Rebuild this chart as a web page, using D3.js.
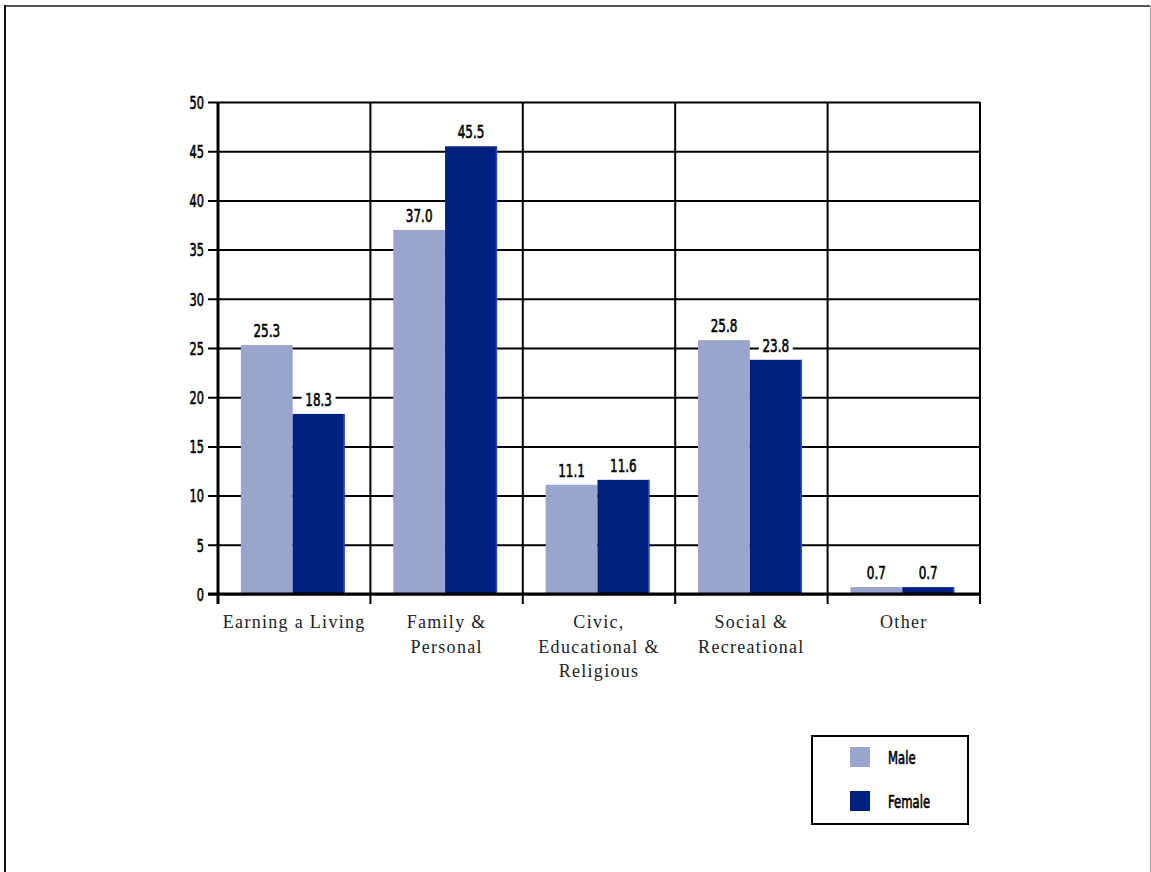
<!DOCTYPE html>
<html>
<head>
<meta charset="utf-8">
<script src="https://cdn.jsdelivr.net/npm/d3@7"></script>
<style>
  html, body { margin: 0; padding: 0; background: #fff; }
  svg { display: block; }
  .narrow { font-family: "DejaVu Sans Condensed", "DejaVu Sans", sans-serif; font-weight: normal; stroke: #000; stroke-width: 0.6px; }
  .cat { font-family: "Liberation Serif", "DejaVu Serif", serif; letter-spacing: 1.3px; }
</style>
</head>
<body>
<svg id="chart" width="1151" height="872"></svg>
<script>
// Share of time by activity, by sex (%)
const categories = [
  ["Earning a Living"],
  ["Family &", "Personal"],
  ["Civic,", "Educational &", "Religious"],
  ["Social &", "Recreational"],
  ["Other"]
];
const series = ["Male", "Female"];
const maleValues = [25.3, 37.0, 11.1, 25.8, 0.7];
const femaleValues = [18.3, 45.5, 11.6, 23.8, 0.7];
const yTicks = [0, 5, 10, 15, 20, 25, 30, 35, 40, 45, 50];
const colors = { Male: "#9aa5cd", Female: "#00207f" };

const svg = d3.select("#chart");
const margin = { left: 218, right: 171, top: 102, bottom: 278 };
const W = 1151, H = 872;
const plotW = W - margin.left - margin.right;
const plotH = H - margin.top - margin.bottom;
const squeeze = 0.72; // horizontal compression for the narrow label face

// outer frame (top, left, right edges)
svg.append("line").attr("x1", 4).attr("x2", 1150).attr("y1", 6).attr("y2", 6)
  .attr("stroke", "#555").attr("stroke-width", 2);
svg.append("line").attr("x1", 5).attr("x2", 5).attr("y1", 5).attr("y2", 872)
  .attr("stroke", "#111").attr("stroke-width", 2);
svg.append("line").attr("x1", 1150.5).attr("x2", 1150.5).attr("y1", 6).attr("y2", 872)
  .attr("stroke", "#999").attr("stroke-width", 1);

const catKeys = categories.map(c => c.join(" "));
const x = d3.scaleBand().domain(catKeys).range([0, plotW]).padding(0);
const bw = x.bandwidth();
const x1 = d3.scaleBand().domain(series).range([bw * 0.15, bw * 0.83]).padding(0);
const y = d3.scaleLinear().domain([0, 50]).range([plotH, 0]);

const g = svg.append("g").attr("transform", `translate(${margin.left},${margin.top})`);

// horizontal gridlines with tick marks
const yAxis = d3.axisLeft(y).tickValues(yTicks).tickSize(-plotW).tickPadding(0).tickFormat(d3.format("d"));
const yg = g.append("g").call(yAxis);
yg.select(".domain").remove();
yg.selectAll(".tick line").attr("x1", -10).attr("stroke", "#000").attr("stroke-width", 2);
yg.selectAll(".tick text").remove();
yg.selectAll(".tick").append("g")
  .attr("transform", `translate(-14,0) scale(${squeeze},1)`)
  .append("text")
  .attr("class", "narrow")
  .attr("dy", "0.36em")
  .attr("text-anchor", "end")
  .attr("font-size", 17.5).attr("fill", "#000")
  .text(d => d);

// vertical dividers between categories (extend below axis as ticks)
const bounds = catKeys.map(k => x(k)).concat([plotW]);
g.selectAll(".vline").data(bounds).join("line")
  .attr("class", "vline")
  .attr("x1", d => d).attr("x2", d => d)
  .attr("y1", 0).attr("y2", plotH + 10)
  .attr("stroke", "#000").attr("stroke-width", d => d === 0 ? 3 : 2);

// bars
const rows = catKeys.map((k, i) => ({ key: k, Male: maleValues[i], Female: femaleValues[i] }));
const groups = g.selectAll(".grp").data(rows).join("g")
  .attr("class", "grp")
  .attr("transform", d => `translate(${x(d.key)},0)`);

groups.selectAll("rect").data(d => series.map(s => ({ s, v: d[s] }))).join("rect")
  .attr("x", d => x1(d.s))
  .attr("y", d => y(d.v))
  .attr("width", x1.bandwidth())
  .attr("height", d => plotH - y(d.v))
  .attr("fill", d => colors[d.s]);

// lighter edge on the right of the dark bars
groups.selectAll(".edge").data(d => [{ v: d.Female }]).join("line")
  .attr("class", "edge")
  .attr("x1", x1("Female") + x1.bandwidth() - 0.5)
  .attr("x2", x1("Female") + x1.bandwidth() - 0.5)
  .attr("y1", d => y(d.v)).attr("y2", plotH)
  .attr("stroke", "#2a48c8").attr("stroke-width", 1.5);

// zero line
g.append("line").attr("x1", -10).attr("x2", plotW).attr("y1", plotH).attr("y2", plotH)
  .attr("stroke", "#000").attr("stroke-width", 3);

// value labels with white backing
const labels = groups.selectAll(".lab").data(d => series.map(s => ({ s, v: d[s] }))).join("g")
  .attr("class", "lab")
  .attr("transform", d => `translate(${x1(d.s) + x1.bandwidth() / 2},${y(d.v) - 8})`);
labels.append("rect")
  .attr("x", -17).attr("y", -15).attr("width", 34).attr("height", 19)
  .attr("fill", "#fff");
labels.append("g")
  .attr("transform", `scale(${squeeze},1)`)
  .append("text")
  .attr("class", "narrow")
  .attr("text-anchor", "middle")
  .attr("font-size", 18.5).attr("fill", "#000")
  .text(d => d.v.toFixed(1));

// category labels
const cats = g.selectAll(".cat").data(categories).join("text")
  .attr("class", "cat")
  .attr("x", (d, i) => x(catKeys[i]) + bw / 2)
  .attr("y", plotH + 34)
  .attr("text-anchor", "middle")
  .attr("font-size", 18).attr("fill", "#222");
cats.selectAll("tspan").data(d => d).join("tspan")
  .attr("x", function () { return this.parentNode.getAttribute("x"); })
  .attr("dy", (d, i) => i === 0 ? 0 : 24.5)
  .text(d => d);

// legend
const lg = svg.append("g").attr("transform", "translate(812,736)");
lg.append("rect").attr("width", 156).attr("height", 88)
  .attr("fill", "#fff").attr("stroke", "#000").attr("stroke-width", 2);
const items = lg.selectAll(".li").data(series).join("g")
  .attr("class", "li")
  .attr("transform", (d, i) => `translate(38,${11 + i * 44})`);
items.append("rect").attr("width", 20).attr("height", 20).attr("fill", d => colors[d]);
items.append("g")
  .attr("transform", `translate(38,17) scale(${squeeze},1)`)
  .append("text")
  .attr("class", "narrow")
  .attr("font-size", 18).attr("fill", "#000")
  .text(d => d);
</script>
</body>
</html>
